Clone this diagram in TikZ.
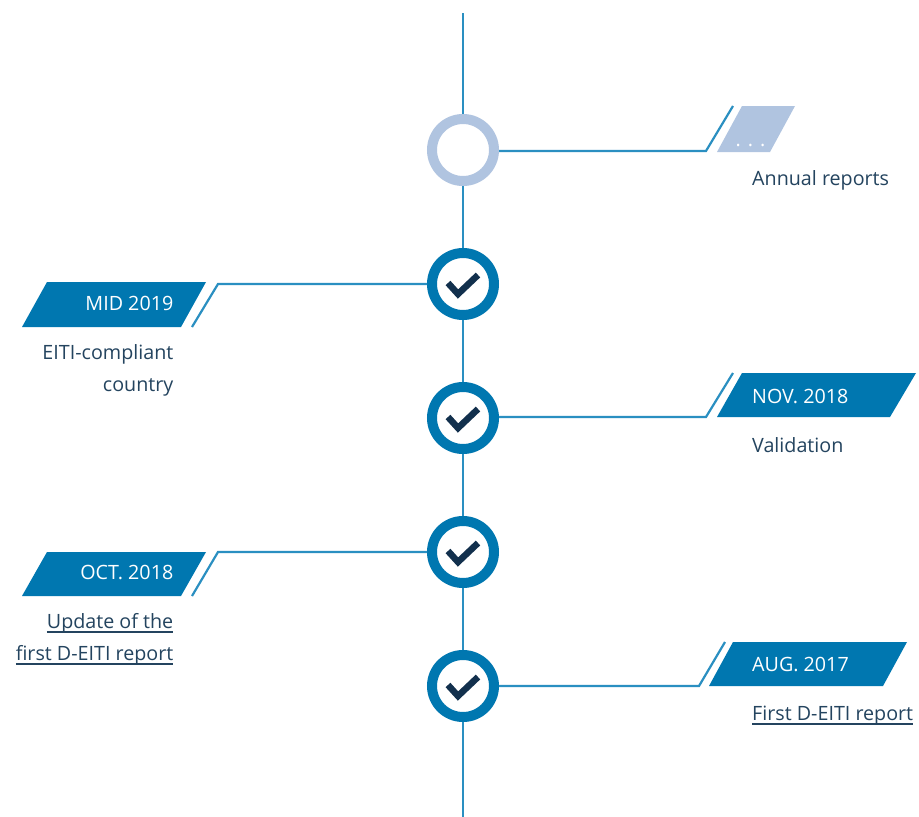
\documentclass[tikz,border=0pt]{standalone}
\usepackage{fontspec}
\setmainfont{Open Sans}
\definecolor{linec}{HTML}{2A8FC1}
\definecolor{darkb}{HTML}{0077B0}
\definecolor{lightb}{HTML}{B0C4E0}
\definecolor{textc}{HTML}{24445F}
\definecolor{checkc}{HTML}{12304D}
\newcommand{\ulb}[1]{\setbox0\hbox{#1}\hbox{\rlap{\rule[-4.6pt]{\wd0}{1.5pt}}\box0}}
\tikzset{
  x=1pt,y=-1pt,
  conn/.style={draw=linec,line width=2.2pt,line join=miter},
  ring/.style={circle,draw=darkb,fill=white,line width=10pt,minimum size=62pt,inner sep=0pt},
  ringoff/.style={ring,draw=lightb},
  tick/.style={draw=checkc,line width=6.5pt,line join=miter},
  tag/.style={fill=darkb},
  tagoff/.style={fill=lightb},
  datel/.style={font=\fontsize{19.7}{19.7}\selectfont,text=white,inner sep=0pt},
  desc/.style={font=\fontsize{19.7}{19.7}\selectfont,text=textc,inner sep=0pt},
}
\begin{document}
\begin{tikzpicture}
\useasboundingbox[fill=white] (0,0) rectangle (919,817);
% nodes
\node[ringoff] (c1) at (463,150) {};
\node[ring] (c2) at (463,284) {};
\node[ring] (c3) at (463,418) {};
\node[ring] (c4) at (463,552) {};
\node[ring] (c5) at (463,686) {};
\coordinate (top) at (463,13);
\coordinate (bot) at (463,817);
% spine
\draw[conn] (top) -- (c1.north);
\draw[conn] (c1.south) -- (c2.north);
\draw[conn] (c2.south) -- (c3.north);
\draw[conn] (c3.south) -- (c4.north);
\draw[conn] (c4.south) -- (c5.north);
\draw[conn] (c5.south) -- (bot);
% branches
\coordinate (k1) at (706,151); \coordinate (e1) at (733,106);
\draw[conn] (c1.east |- k1) -- (k1) -- (e1);
\coordinate (k2) at (218,284); \coordinate (e2) at (192,327);
\draw[conn] (c2.west) -- (k2) -- (e2);
\coordinate (k3) at (706,417); \coordinate (e3) at (733,373);
\draw[conn] (c3.east |- k3) -- (k3) -- (e3);
\coordinate (k4) at (218,552); \coordinate (e4) at (192,596);
\draw[conn] (c4.west) -- (k4) -- (e4);
\coordinate (k5) at (699,686); \coordinate (e5) at (725,642);
\draw[conn] (c5.east) -- (k5) -- (e5);
% tags
\path[tagoff] (742,106) -- (795,106) -- (770,152) -- (717,152) -- cycle;
\path[tag] (47,282) -- (206,282) -- (181,327) -- (22,327) -- cycle;
\path[tag] (742,373) -- (916,373) -- (890,417) -- (717,417) -- cycle;
\path[tag] (47,552) -- (206,552) -- (181,596) -- (22,596) -- cycle;
\path[tag] (733,642) -- (907,642) -- (883,686) -- (709,686) -- cycle;
% checks
\foreach \n in {2,3,4,5}{
  \draw[tick] ([shift={(-15,-1)}]c\n.center) -- ([shift={(-5,10)}]c\n.center) -- ([shift={(15,-9)}]c\n.center);
}
% labels
\node[datel,anchor=base] (d1) at (750.5,146) {.\hspace{7pt}.\hspace{7pt}.};
\node[datel,anchor=base east] (d2) at (173.5,310) {MID 2019};
\node[datel,anchor=base west] (d3) at (752,403) {NOV. 2018};
\node[datel,anchor=base east] (d4) at (173.5,579) {OCT. 2018};
\node[datel,anchor=base west] (d5) at (752,671) {AUG. 2017};
\node[desc,anchor=base west] (t1) at (752,185) {Annual reports};
\node[desc,anchor=base east] (t2a) at (173.5,359) {EITI-compliant};
\node[desc,anchor=base east] (t2b) at (173.5,391) {country};
\node[desc,anchor=base west] (t3) at (752,452) {Validation};
\node[desc,anchor=base east] (t4a) at (173.5,628) {\ulb{Update of the}};
\node[desc,anchor=base east] (t4b) at (173.5,660) {\ulb{first D-EITI report}};
\node[desc,anchor=base west] (t5) at (752,720) {\ulb{First D-EITI report}};
\end{tikzpicture}
\end{document}
